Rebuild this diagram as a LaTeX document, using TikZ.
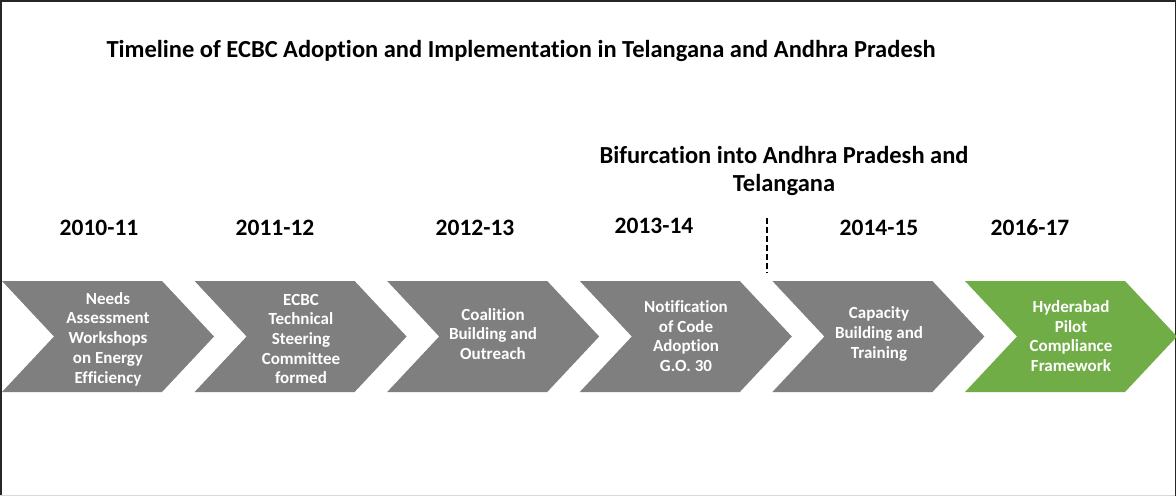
\documentclass[tikz,border=0pt]{standalone}
\usepackage{fontspec}
\setmainfont{Carlito}[Ligatures=NoCommon]
\definecolor{chevgray}{RGB}{127,127,127}
\definecolor{chevgreen}{RGB}{112,173,71}

\begin{document}
\begin{tikzpicture}[
    x=1pt, y=-1pt,
    every node/.style={font=\bfseries},
    chevlabel/.style={text=white, align=center, font=\bfseries\fontsize{17}{19.7}\selectfont},
    yearlabel/.style={font=\bfseries\fontsize{23.5}{27}\selectfont},
    headlabel/.style={align=center, font=\bfseries\fontsize{24.5}{27.5}\selectfont},
]

% === Page and frame ===
\def\pageW{1176}
\def\pageH{496}
\useasboundingbox (0,0) rectangle (\pageW,\pageH);
\fill[white] (0,0) rectangle (\pageW,\pageH);
\draw[line width=1.5pt, black!85] (0.75,\pageH) -- (0.75,0.75) -- ({\pageW-0.75},0.75) -- ({\pageW-0.75},\pageH);
\draw[line width=1.5pt, gray!30] (0,{\pageH-0.75}) -- ({\pageW-1.5},{\pageH-0.75});

% === Chevron geometry ===
\def\chevW{160}     % flat top length
\def\chevD{52}      % point depth
\def\chevT{281}     % top edge
\def\chevB{392}     % bottom edge
\def\chevM{336.5}   % tip height
\def\chevStep{192.6}

% === Title ===
\node[font=\bfseries\fontsize{24.5}{28}\selectfont] (title) at (521,51)
    {Timeline of ECBC Adoption and Implementation in Telangana and Andhra Pradesh};

% === Chevrons ===
\foreach \i/\col in {0/chevgray, 1/chevgray, 2/chevgray, 3/chevgray, 4/chevgray, 5/chevgreen} {
    \pgfmathsetmacro{\xl}{2+\chevStep*\i}
    \fill[\col] (\xl,\chevT) -- ({\xl+\chevW},\chevT) -- ({\xl+\chevW+\chevD},\chevM)
        -- ({\xl+\chevW},\chevB) -- (\xl,\chevB) -- ({\xl+\chevD},\chevM) -- cycle;
}

% === Chevron texts ===
\node[chevlabel] (needs)        at (108,339) {Needs\\Assessment\\Workshops\\on Energy\\Efficiency};
\node[chevlabel] (steering)     at (301,339) {ECBC\\Technical\\Steering\\Committee\\formed};
\node[chevlabel] (coalition)    at (493,334) {Coalition\\Building and\\Outreach};
\node[chevlabel] (notification) at (686,336) {Notification\\of Code\\Adoption\\G.O. 30};
\node[chevlabel] (capacity)     at (879,334) {Capacity\\Building and\\Training};
\node[chevlabel] (pilot)        at (1071,336) {Hyderabad\\Pilot\\Compliance\\Framework};

% === Years ===
\node[yearlabel] (y10) at (99,228)   {2010-11};
\node[yearlabel] (y11) at (275,228)  {2011-12};
\node[yearlabel] (y12) at (475,228)  {2012-13};
\node[yearlabel] (y13) at (654,226)  {2013-14};
\node[yearlabel] (y14) at (879,228)  {2014-15};
\node[yearlabel] (y16) at (1030,228) {2016-17};

% === Bifurcation ===
\node[headlabel] (split) at (784,171) {Bifurcation into Andhra Pradesh and\\Telangana};
\coordinate (splittop) at (767,218);
\coordinate (splitbot) at (767,273);
\draw[line width=2.2pt, dash pattern=on 6pt off 3pt] (splittop) -- (splitbot);

\end{tikzpicture}
\end{document}
